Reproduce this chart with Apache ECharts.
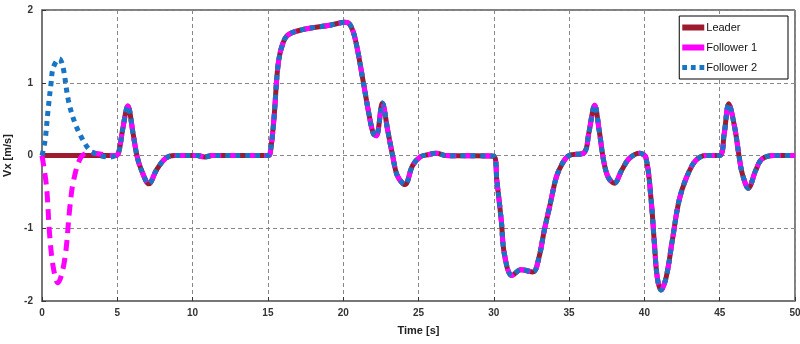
<!DOCTYPE html>
<html>
<head>
<meta charset="utf-8">
<script src="https://cdn.jsdelivr.net/npm/echarts@6/dist/echarts.min.js"></script>
<style>
  html, body { margin: 0; padding: 0; background: #fff; }
  #main { width: 800px; height: 344px; }
</style>
</head>
<body>
<div id="main"></div>
<script>
// leader velocity
var leaderT = [0, 4.9, 5.1, 5.35, 5.7, 6.05, 6.3, 6.6, 7.1, 7.6, 8.2, 8.8, 9.5, 10.3, 10.8, 11.3, 12, 15.0,
  15.15, 15.4, 15.65, 15.9, 16.3, 17.3, 19.1, 20.1, 20.45, 20.8, 21.3, 21.7, 22.0, 22.2, 22.6, 22.95, 23.3, 23.6,
  24.1, 24.6, 25.1, 25.6, 26.2, 26.8, 30.0, 30.2, 30.5, 30.7, 31.2, 31.8, 32.6, 33.0, 33.35, 33.7,
  34.15, 34.55, 35.0, 36.0, 36.3, 36.7, 37.0, 37.3, 37.6, 38.0, 38.5, 39.0, 39.7, 40.1, 40.45, 40.65, 40.85, 41.1,
  41.45, 41.85, 42.3, 42.8, 43.4, 44.1, 45.0, 45.3, 45.6, 46.0, 46.3, 46.5, 46.9, 47.4, 47.8, 48.6, 50];
var leaderV = [0, 0, 0.05, 0.35, 0.68, 0.3, 0.0, -0.2, -0.39, -0.2, -0.04, 0, 0, 0, -0.02, 0, 0, 0,
  0.03, 0.5, 1.2, 1.48, 1.65, 1.73, 1.79, 1.83, 1.8, 1.6, 1.05, 0.58, 0.3, 0.27, 0.72, 0.35, -0.02, -0.28,
  -0.4, -0.14, -0.02, 0.01, 0.03, 0, -0.01, -0.34, -0.9, -1.35, -1.65, -1.57, -1.6, -1.4, -1.03, -0.71,
  -0.3, -0.11, 0, 0.04, 0.3, 0.69, 0.34, -0.08, -0.3, -0.38, -0.2, -0.04, 0.03, -0.03, -0.62, -1.17, -1.67, -1.85,
  -1.67, -1.17, -0.62, -0.3, -0.07, 0, 0, 0.3, 0.71, 0.38, -0.03, -0.25, -0.45, -0.2, -0.05, 0, 0];

// initial transients of the followers (before they join the leader)
var f1T = [0, 0.3, 0.5, 0.75, 1.05, 1.5, 1.85, 2.1, 2.6, 3.2, 3.85, 4.5];
var f1V = [0, -0.43, -1.07, -1.54, -1.75, -1.44, -0.71, -0.34, -0.02, 0.04, 0.02, 0];
var f2T = [0, 0.2, 0.4, 0.6, 0.75, 1.15, 1.4, 1.75, 2.2, 2.75, 3.2, 3.85, 4.5];
var f2V = [0, 0.2, 0.62, 0.99, 1.21, 1.33, 1.21, 0.76, 0.44, 0.2, 0.07, 0, -0.02];

var xTicks = [0, 5, 10, 15, 20, 25, 30, 35, 40, 45, 50];
var yTicks = [-2, -1, 0, 1, 2];

function pairs(t, v) {
  var out = [];
  for (var i = 0; i < t.length; i++) out.push([t[i], v[i]]);
  return out;
}
function follower(t, v) {
  var out = pairs(t, v);
  var last = t[t.length - 1];
  for (var i = 0; i < leaderT.length; i++) {
    if (leaderT[i] > last) out.push([leaderT[i], leaderV[i]]);
  }
  return out;
}

var font = 'Liberation Sans, Arial, sans-serif';
var dotsIcon = 'path://M0,0h5v5h-5z M9,0h5v5h-5z M18,0h5v5h-5z';
var option = {
  animation: false,
  grid: { left: 42, right: 5, top: 10, bottom: 43, outerBoundsMode: 'none',
    show: true, borderColor: '#000', borderWidth: 1 },
  legend: {
    orient: 'vertical',
    right: 12,
    top: 16,
    itemWidth: 22,
    itemHeight: 6,
    itemGap: 9,
    padding: [6, 31, 6, 3],
    borderColor: '#000',
    borderWidth: 1,
    backgroundColor: '#fff',
    textStyle: { fontFamily: font, fontSize: 11, color: '#111', padding: [0, 0, 7, -3] },
    data: [
      { name: 'Leader', icon: 'rect' },
      { name: 'Follower 1', icon: 'rect' },
      { name: 'Follower 2', icon: dotsIcon }
    ]
  },
  xAxis: {
    type: 'value', min: 0, max: 50, interval: 5,
    name: 'Time [s]', nameLocation: 'middle', nameGap: 24,
    nameTextStyle: { fontFamily: font, fontSize: 11, fontWeight: 'bold', color: '#222' },
    axisLine: { onZero: false, lineStyle: { color: '#777', width: 2 } },
    axisTick: { inside: true, length: 4, lineStyle: { color: '#333' } },
    axisLabel: { fontFamily: font, fontSize: 10, fontWeight: 'bold', color: '#333', margin: 7,
      customValues: xTicks },
    splitLine: { show: true, lineStyle: { color: '#888', type: [4, 3] } }
  },
  yAxis: {
    type: 'value', min: -2, max: 2, interval: 1,
    name: 'Vx [m/s]', nameLocation: 'middle', nameGap: 29,
    nameTextStyle: { fontFamily: font, fontSize: 11, fontWeight: 'bold', color: '#222' },
    axisLine: { onZero: false, lineStyle: { color: '#777', width: 2 } },
    axisTick: { inside: true, length: 4, lineStyle: { color: '#333' } },
    axisLabel: { fontFamily: font, fontSize: 10, fontWeight: 'bold', color: '#333', margin: 9,
      customValues: yTicks },
    splitLine: { show: true, lineStyle: { color: '#888', type: [4, 3] } }
  },
  series: [
    {
      name: 'Leader', type: 'line', data: pairs(leaderT, leaderV),
      smooth: 0.35, showSymbol: false, symbol: 'none',
      color: '#9e1a2e',
      lineStyle: { color: '#9e1a2e', width: 5 }
    },
    {
      name: 'Follower 1', type: 'line', data: follower(f1T, f1V),
      smooth: 0.35, showSymbol: false, symbol: 'none',
      color: '#ff00ff',
      lineStyle: { color: '#ff00ff', width: 5, type: [11, 7] }
    },
    {
      name: 'Follower 2', type: 'line', data: follower(f2T, f2V),
      smooth: 0.35, showSymbol: false, symbol: 'none',
      color: '#1874c4',
      lineStyle: { color: '#1874c4', width: 5, type: [5, 5] }
    }
  ]
};
var myChart = echarts.init(document.getElementById('main'));
myChart.setOption(option);
</script>
</body>
</html>
